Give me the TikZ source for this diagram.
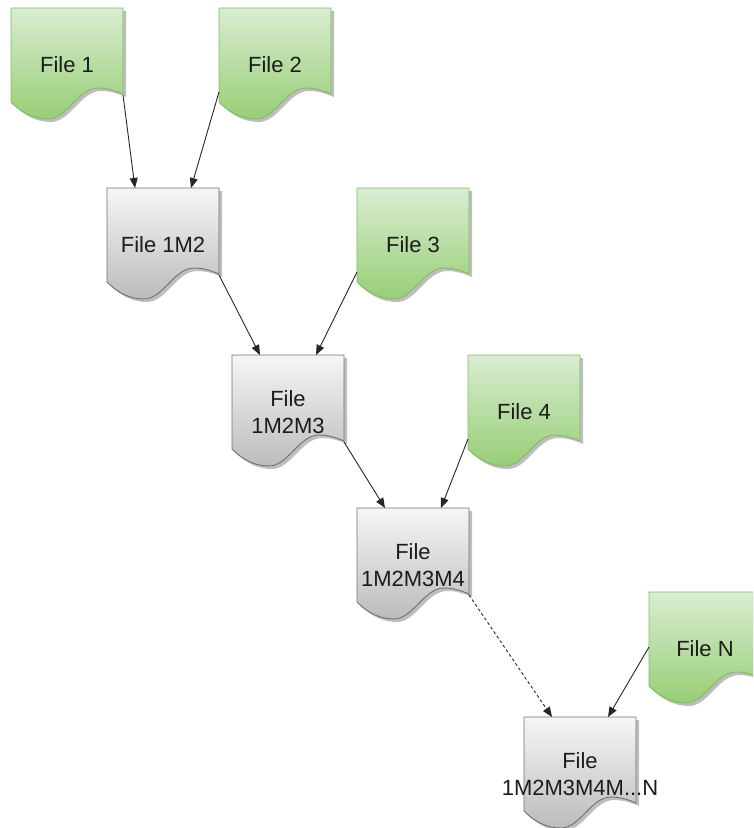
\documentclass[tikz,border=0pt]{standalone}
\usepackage{fontspec}
\setmainfont{Liberation Sans}
\usetikzlibrary{arrows.meta}
\definecolor{gtop}{RGB}{217,237,210}
\definecolor{gbot}{RGB}{152,206,118}
\definecolor{gline}{RGB}{128,188,96}
\definecolor{ytop}{RGB}{246,246,246}
\definecolor{ybot}{RGB}{188,188,188}
\definecolor{yline}{RGB}{112,112,112}
\definecolor{shd}{RGB}{190,190,190}
\definecolor{txt}{RGB}{28,28,28}

\tikzset{
  greendoc/.style={top color=gtop, bottom color=gbot, draw=gline, line width=0.9pt},
  graydoc/.style={top color=ytop, bottom color=ybot, draw=yline, line width=0.9pt},
  docbody/.style={anchor=center, minimum width=112pt, minimum height=114pt,
    inner sep=0pt, align=center, text=txt, font=\fontsize{22}{27}\selectfont},
  conn/.style={draw=black!85, line width=0.9pt, -{Triangle[length=10pt,width=8pt]}},
  dconn/.style={conn, dash pattern=on 3pt off 2.5pt}
}

\newcommand\docshape[5]{%
  \begin{scope}[shift={(#2,#3)}]
    \fill[shd] (3,3) -- (3,97) .. controls (15,109) and (27,114) .. (40,114)
      .. controls (59,114) and (70,83) .. (90,83)
      .. controls (100,83) and (108,86) .. (115,89) -- (115,3) -- cycle;
    \path[#4] (0,0) -- (0,94) .. controls (12,106) and (24,111) .. (37,111)
      .. controls (56,111) and (67,80) .. (87,80)
      .. controls (97,80) and (105,83) .. (112,86) -- (112,0) -- cycle;
    \node[docbody] (#1) at (56,57) {#5};
    \coordinate (#1-t1) at (28,0);
    \coordinate (#1-t2) at (84,0);
    \coordinate (#1-se) at (112,87);
    \coordinate (#1-sw) at (0,84);
    \coordinate (#1-w) at (0,55);
  \end{scope}}

\begin{document}
\begin{tikzpicture}[x=1pt, y=-1pt]
  \useasboundingbox (0,0) rectangle (753,828);
  \clip (0,0) rectangle (753,828);

  \docshape{f1}{11}{8}{greendoc}{File 1}
  \docshape{f2}{219}{8}{greendoc}{File 2}
  \docshape{m2}{107}{188}{graydoc}{File 1M2}
  \docshape{f3}{357}{188}{greendoc}{File 3}
  \docshape{m3}{232}{355}{graydoc}{File\\1M2M3}
  \docshape{f4}{468}{355}{greendoc}{File 4}
  \docshape{m4}{357}{508}{graydoc}{File\\1M2M3M4}
  \docshape{fn}{649}{592}{greendoc}{File N}
  \docshape{mn}{524}{717}{graydoc}{File\\1M2M3M4M...N}

  \draw[conn] (f1-se) -- (m2-t1);
  \draw[conn] (f2-sw) -- (m2-t2);
  \draw[conn] (m2-se) -- (m3-t1);
  \draw[conn] (f3-sw) -- (m3-t2);
  \draw[conn] (m3-se) -- (m4-t1);
  \draw[conn] (f4-sw) -- (m4-t2);
  \draw[dconn] (m4-se) -- (mn-t1);
  \draw[conn] (fn-w) -- (mn-t2);
\end{tikzpicture}
\end{document}
